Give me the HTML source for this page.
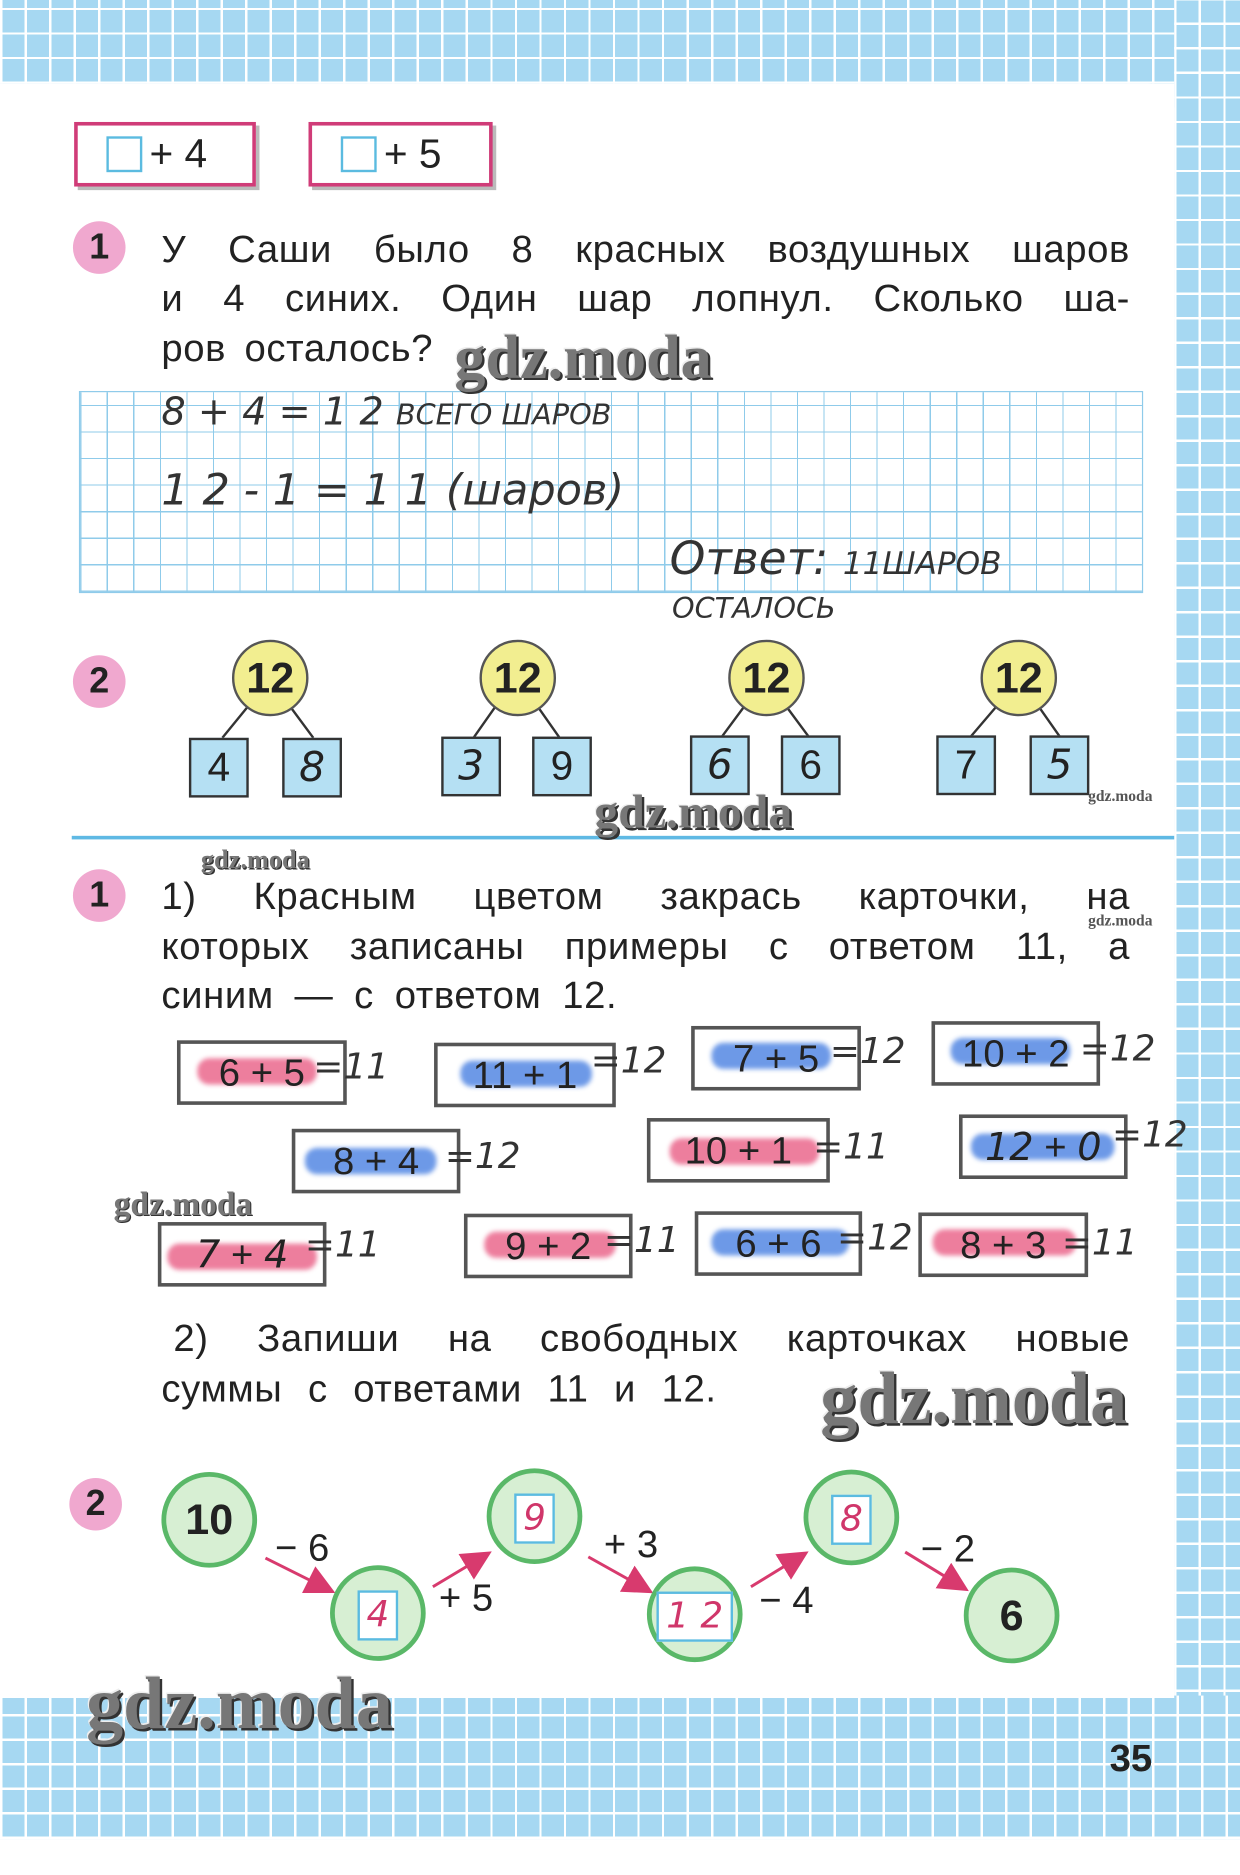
<!DOCTYPE html>
<html><head><meta charset="utf-8">
<style>
html,body{margin:0;padding:0;}
body{width:1240px;height:1875px;overflow:hidden;background:#fff;position:relative;}
#w{position:absolute;left:0;top:0;width:1037px;height:1568px;transform:scale(1.19575);transform-origin:0 0;font-family:"Liberation Sans Narrow","Liberation Sans","DejaVu Sans",sans-serif;color:#222;}
.grid{position:absolute;background-color:#a6d8f2;
background-image:repeating-linear-gradient(90deg,#fff 0 2px,transparent 2px 20.5px),repeating-linear-gradient(0deg,#fff 0 2px,transparent 2px 20.5px);}
.a{position:absolute;}
.t{position:absolute;font-size:32px;white-space:nowrap;letter-spacing:0.5px;}
.j{position:absolute;font-size:32px;width:810px;text-align:justify;text-align-last:justify;white-space:normal;height:40px;overflow:hidden;letter-spacing:0.5px;}
.pc{position:absolute;width:44px;height:44px;border-radius:50%;background:#f0a8cf;font-weight:bold;font-size:30px;text-align:center;line-height:44px;font-family:"Liberation Sans",sans-serif;}
.pb{position:absolute;border:3px solid #d03c78;height:48px;box-shadow:3px 3px 0 #bbb;font-size:34px;line-height:48px;}
.sq{display:inline-block;width:26px;height:26px;border:2px solid #5bbbe0;vertical-align:middle;margin:0 6px 4px 24px;}
.hw{position:absolute;font-family:"DejaVu Sans",sans-serif;font-style:italic;font-size:32px;color:#333;white-space:nowrap;font-weight:300;}
.yc{position:absolute;width:60px;height:60px;border-radius:50%;background:#f2ee90;border:2px solid #555;text-align:center;line-height:60px;font-weight:bold;font-size:36px;}
.bs{position:absolute;width:46px;height:46px;background:#b5e0f3;border:2px solid #333;text-align:center;line-height:46px;font-size:34px;}
.bs i{font-family:"DejaVu Sans",sans-serif;}
.card{position:absolute;border:3px solid #555;height:48px;font-size:32px;line-height:48px;text-align:center;}
.hl{position:absolute;height:22px;border-radius:10px;filter:blur(2px);opacity:.75;}
.gc{position:absolute;width:72px;height:72px;border-radius:50%;background:#d7efd3;border:4px solid #5ab868;text-align:center;line-height:72px;font-weight:bold;font-size:36px;}
.in{display:inline-block;width:30px;height:38px;border:2px solid #5bbbe0;background:#fff;line-height:38px;font-style:italic;color:#d0366a;font-weight:normal;font-family:"DejaVu Sans",sans-serif;vertical-align:middle;font-size:30px;}
.wm{position:absolute;font-family:"Liberation Serif",serif;font-weight:bold;color:#777;text-shadow:2px 2px 0 #333,-1px -1px 0 #eee;white-space:nowrap;}
.op{position:absolute;font-size:32px;white-space:nowrap;}
</style></head><body>
<div id="w">
<div class="grid" style="left:0;top:0;width:1037px;height:70px"></div>
<div class="grid" style="left:982px;top:0;width:55px;height:1538px"></div>
<div class="grid" style="left:0;top:1418px;width:1037px;height:120px"></div>
<div class="a" style="left:0;top:70px;width:982px;height:1350px;background:#fff;border-top-right-radius:22px"></div>

<div class="pb" style="left:62px;top:102px;width:146px"><span class="sq"></span>+ 4</div>
<div class="pb" style="left:258px;top:102px;width:148px"><span class="sq"></span>+ 5</div>

<div class="pc" style="left:61px;top:185px">1</div>
<div class="j" style="left:135px;top:190px">У Саши было 8 красных воздушных шаров</div>
<div class="j" style="left:135px;top:231px">и 4 синих. Один шар лопнул. Сколько ша-</div>
<div class="t" style="left:135px;top:273px;word-spacing:6px">ров осталось?</div>

<div class="a" style="left:66px;top:327px;width:888px;height:167px;border:1px solid #8fcbea;
background-image:repeating-linear-gradient(90deg,#8fcbea 0 1px,transparent 1px 22.2px),repeating-linear-gradient(0deg,#8fcbea 0 1px,transparent 1px 22.2px);"></div>
<div class="hw" style="left:135px;top:325px">8 + 4 = 1 2 <span style="font-size:24px">ВСЕГО ШАРОВ</span></div>
<div class="hw" style="left:135px;top:390px;font-size:36px">1 2 - 1 = 1 1 (шаров)</div>
<div class="hw" style="left:560px;top:445px;font-size:38px">Ответ: <span style="font-size:26px">11ШАРОВ</span></div>
<div class="hw" style="left:562px;top:495px;font-size:24px">ОСТАЛОСЬ</div>

<div class="pc" style="left:61px;top:548px">2</div>
<svg class="a" style="left:0;top:0" width="1037" height="700">
<g stroke="#333" stroke-width="2" fill="none">
<path d="M208 590 L186 617 M242 590 L262 617"/>
<path d="M415 590 L396 617 M449 590 L468 617"/>
<path d="M623 590 L603 617 M657 590 L677 617"/>
<path d="M834 590 L811 617 M868 590 L887 617"/>
</g></svg>
<div class="yc" style="left:194px;top:535px">12</div>
<div class="yc" style="left:401px;top:535px">12</div>
<div class="yc" style="left:609px;top:535px">12</div>
<div class="yc" style="left:820px;top:535px">12</div>
<div class="bs" style="left:158px;top:617px">4</div>
<div class="bs" style="left:236px;top:617px"><i>8</i></div>
<div class="bs" style="left:369px;top:616px"><i>3</i></div>
<div class="bs" style="left:445px;top:616px">9</div>
<div class="bs" style="left:577px;top:615px"><i>6</i></div>
<div class="bs" style="left:653px;top:615px">6</div>
<div class="bs" style="left:783px;top:615px">7</div>
<div class="bs" style="left:861px;top:615px"><i>5</i></div>

<div class="a" style="left:60px;top:699px;width:922px;height:3px;background:#5fb9e4"></div>

<div class="pc" style="left:61px;top:727px">1</div>
<div class="j" style="left:135px;top:731px">1) Красным цветом закрась карточки, на</div>
<div class="j" style="left:135px;top:773px">которых записаны примеры с ответом 11, а</div>
<div class="t" style="left:135px;top:814px;word-spacing:8px">синим — с ответом 12.</div>

<div class="hl" style="left:165px;top:885px;width:100px;background:#e8537d"></div>
<div class="hl" style="left:385px;top:887px;width:110px;background:#3d78e0"></div>
<div class="hl" style="left:595px;top:872px;width:100px;background:#3d78e0"></div>
<div class="hl" style="left:795px;top:868px;width:100px;background:#3d78e0"></div>
<div class="hl" style="left:255px;top:960px;width:110px;background:#3d78e0"></div>
<div class="hl" style="left:560px;top:952px;width:125px;background:#e8537d"></div>
<div class="hl" style="left:812px;top:948px;width:120px;background:#3d78e0"></div>
<div class="hl" style="left:140px;top:1040px;width:125px;background:#e8537d"></div>
<div class="hl" style="left:405px;top:1030px;width:110px;background:#e8537d"></div>
<div class="hl" style="left:595px;top:1028px;width:115px;background:#3d78e0"></div>
<div class="hl" style="left:780px;top:1028px;width:120px;background:#e8537d"></div>

<div class="card" style="left:148px;top:870px;width:136px">6 + 5</div>
<div class="card" style="left:363px;top:872px;width:146px">11 + 1</div>
<div class="card" style="left:578px;top:858px;width:136px">7 + 5</div>
<div class="card" style="left:779px;top:854px;width:135px">10 + 2</div>
<div class="card" style="left:244px;top:944px;width:135px">8 + 4</div>
<div class="card" style="left:541px;top:935px;width:147px">10 + 1</div>
<div class="card" style="left:802px;top:932px;width:135px"><i style="font-family:'DejaVu Sans'">12</i> + <i style="font-family:'DejaVu Sans'">0</i></div>
<div class="card" style="left:132px;top:1022px;width:135px"><i style="font-family:'DejaVu Sans'">7</i> + <i style="font-family:'DejaVu Sans'">4</i></div>
<div class="card" style="left:388px;top:1015px;width:135px">9 + 2</div>
<div class="card" style="left:581px;top:1013px;width:134px">6 + 6</div>
<div class="card" style="left:768px;top:1014px;width:136px">8 + 3</div>

<div class="hw" style="left:262px;top:875px;font-size:30px">=11</div>
<div class="hw" style="left:494px;top:870px;font-size:30px">=12</div>
<div class="hw" style="left:694px;top:862px;font-size:30px">=12</div>
<div class="hw" style="left:903px;top:860px;font-size:30px">=12</div>
<div class="hw" style="left:372px;top:950px;font-size:30px">=12</div>
<div class="hw" style="left:680px;top:942px;font-size:30px">=11</div>
<div class="hw" style="left:930px;top:932px;font-size:30px">=12</div>
<div class="hw" style="left:255px;top:1024px;font-size:30px">=11</div>
<div class="hw" style="left:505px;top:1020px;font-size:30px">=11</div>
<div class="hw" style="left:700px;top:1018px;font-size:30px">=12</div>
<div class="hw" style="left:888px;top:1022px;font-size:30px">=11</div>

<div class="j" style="left:145px;top:1101px;width:800px">2) Запиши на свободных карточках новые</div>
<div class="t" style="left:135px;top:1143px;word-spacing:12px">суммы с ответами 11 и 12.</div>

<div class="pc" style="left:58px;top:1236px">2</div>
<svg class="a" style="left:0;top:0" width="1037" height="1568">
<defs><marker id="ar" markerWidth="10" markerHeight="10" refX="8" refY="5" orient="auto"><path d="M0 0 L10 5 L0 10 z" fill="#d83a6e"/></marker></defs>
<g stroke="#d83a6e" stroke-width="2.5" marker-end="url(#ar)">
<line x1="222" y1="1303" x2="276" y2="1330"/>
<line x1="362" y1="1327" x2="407" y2="1300"/>
<line x1="492" y1="1302" x2="542" y2="1330"/>
<line x1="628" y1="1327" x2="672" y2="1300"/>
<line x1="757" y1="1298" x2="806" y2="1328"/>
</g></svg>
<div class="gc" style="left:135px;top:1231px">10</div>
<div class="gc" style="left:276px;top:1309px"><span class="in">4</span></div>
<div class="gc" style="left:407px;top:1228px"><span class="in">9</span></div>
<div class="gc" style="left:541px;top:1310px"><span class="in" style="width:60px">1 2</span></div>
<div class="gc" style="left:672px;top:1229px"><span class="in">8</span></div>
<div class="gc" style="left:806px;top:1311px">6</div>
<div class="op" style="left:230px;top:1276px">− 6</div>
<div class="op" style="left:367px;top:1318px">+ 5</div>
<div class="op" style="left:505px;top:1273px">+ 3</div>
<div class="op" style="left:635px;top:1320px">− 4</div>
<div class="op" style="left:770px;top:1277px">− 2</div>

<div class="a" style="left:928px;top:1452px;font-weight:bold;font-size:32px;font-family:'Liberation Sans',sans-serif">35</div>

<div class="wm" style="left:380px;top:270px;font-size:52px">gdz.moda</div>
<div class="wm" style="left:497px;top:655px;font-size:40px">gdz.moda</div>
<div class="wm" style="left:910px;top:658px;font-size:13px;text-shadow:none;color:#555">gdz.moda</div>
<div class="wm" style="left:168px;top:706px;font-size:22px;text-shadow:1px 1px 0 #333">gdz.moda</div>
<div class="wm" style="left:910px;top:762px;font-size:13px;text-shadow:none;color:#555">gdz.moda</div>
<div class="wm" style="left:95px;top:992px;font-size:28px;text-shadow:1px 1px 0 #333">gdz.moda</div>
<div class="wm" style="left:686px;top:1135px;font-size:62px">gdz.moda</div>
<div class="wm" style="left:72px;top:1390px;font-size:62px">gdz.moda</div>
</div>
</body></html>
